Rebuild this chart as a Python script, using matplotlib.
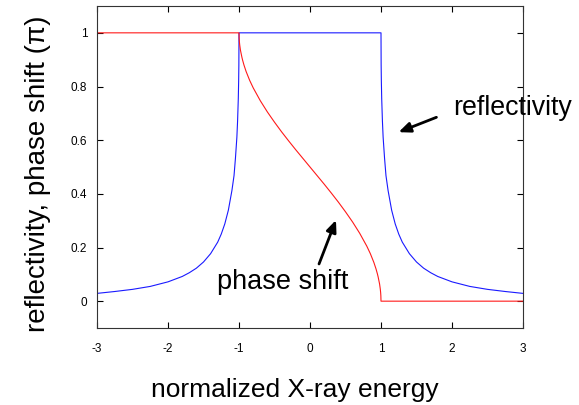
import matplotlib
matplotlib.use("Agg")
import matplotlib.pyplot as plt

plt.rcParams['font.family'] = ['Liberation Sans', 'DejaVu Sans']

# reflectivity (blue)
refl_x = [-3.0, -2.75, -2.5, -2.25, -2.0, -1.8, -1.7, -1.6, -1.5, -1.4, -1.3, -1.25, -1.2, -1.15,
          -1.1, -1.07, -1.05, -1.03, -1.02, -1.01, -1.005, -1.002, -1.0,
          1.0, 1.002, 1.005, 1.01, 1.02, 1.03, 1.05, 1.07, 1.1, 1.15, 1.2, 1.25, 1.3, 1.4, 1.5, 1.6,
          1.7, 1.8, 2.0, 2.25, 2.5, 2.75, 3.0]
refl_y = [0.029, 0.036, 0.044, 0.055, 0.072, 0.092, 0.106, 0.123, 0.146, 0.177, 0.220, 0.250,
          0.288, 0.339, 0.412, 0.468, 0.533, 0.611, 0.671, 0.754, 0.819, 0.880, 1.0,
          1.0, 0.880, 0.819, 0.754, 0.671, 0.611, 0.533, 0.468, 0.412, 0.339, 0.288, 0.250, 0.220,
          0.177, 0.146, 0.123, 0.106, 0.092, 0.072, 0.055, 0.044, 0.036, 0.029]

# phase shift in units of pi (red)
phase_x = [-3.0, -1.0, -0.998, -0.995, -0.99, -0.98, -0.96, -0.95, -0.93, -0.9, -0.85, -0.8,
           -0.7, -0.6, -0.5, -0.4, -0.3, -0.2, -0.1, 0.0, 0.1, 0.2, 0.3, 0.4, 0.5, 0.6, 0.7,
           0.8, 0.85, 0.9, 0.93, 0.95, 0.96, 0.98, 0.99, 0.995, 0.998, 1.0, 3.0]
phase_y = [1.0, 1.0, 0.980, 0.968, 0.955, 0.936, 0.910, 0.899, 0.880, 0.856, 0.823, 0.795,
           0.747, 0.705, 0.667, 0.631, 0.597, 0.564, 0.532, 0.5, 0.468, 0.436, 0.403, 0.369,
           0.333, 0.295, 0.253, 0.205, 0.177, 0.144, 0.120, 0.101, 0.090, 0.064, 0.045,
           0.032, 0.020, 0.0, 0.0]

x_ticks = [-3, -2, -1, 0, 1, 2, 3]
y_ticks = [0, 0.2, 0.4, 0.6, 0.8, 1]
y_tick_labels = ['0', '0.2', '0.4', '0.6', '0.8', '1']

fig = plt.figure(figsize=(5.79, 4.05), dpi=100)
ax = fig.add_axes([97/579, 1-328/405, (523-97)/579, (328-6)/405])

ax.plot(refl_x, refl_y, color='#1a1aff', lw=0.8)
ax.plot(phase_x, phase_y, color='#ff1a1a', lw=0.8)

ax.set_xlim(-3, 3)
ax.set_ylim(-0.1, 1.1)
ax.set_xticks(x_ticks)
ax.set_xticklabels([str(t) for t in x_ticks])
ax.set_yticks(y_ticks)
ax.set_yticklabels(y_tick_labels)
ax.tick_params(direction='in', length=4, width=0.8, top=True, right=True,
               labelsize=8.5, colors='black')
ax.tick_params(axis='x', pad=11)
ax.tick_params(axis='y', pad=7)
for s in ax.spines.values():
    s.set_linewidth(0.8)
    s.set_color('#333333')

ax.annotate('', xy=(1.211, 0.626), xytext=(1.817, 0.689),
            arrowprops=dict(arrowstyle='-|>,head_length=0.7,head_width=0.3',
                            color='black', lw=2), annotation_clip=False)
ax.annotate('', xy=(0.380, 0.312), xytext=(0.113, 0.129),
            arrowprops=dict(arrowstyle='-|>,head_length=0.7,head_width=0.3',
                            color='black', lw=2), annotation_clip=False)
ax.text(2.014, 0.693, 'reflectivity', fontsize=19.3, ha='left', va='baseline', clip_on=False)
ax.text(-1.31, 0.044, 'phase shift', fontsize=19.5, ha='left', va='baseline', clip_on=False)

fig.text(295/579, 1-390/405, 'normalized X-ray energy', fontsize=19, ha='center', va='center')
fig.text(38/579, 1-174/405, 'reflectivity, phase shift (π)', fontsize=20,
         ha='center', va='center', rotation=90)

fig.savefig('out.png', dpi=100)
